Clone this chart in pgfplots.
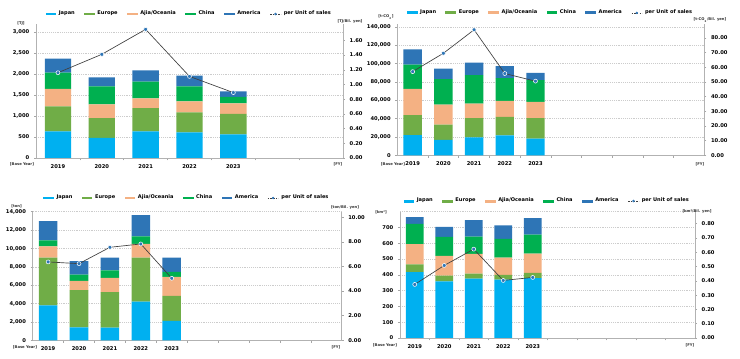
\documentclass[border=0pt]{standalone}
\usepackage{fontspec}
\setmainfont{DejaVu Sans}
\usepackage{pgfplots}
\pgfplotsset{compat=1.18}
\definecolor{cJ}{HTML}{00B0F0}
\definecolor{cE}{HTML}{70AD47}
\definecolor{cA}{HTML}{F4B183}
\definecolor{cC}{HTML}{00B050}
\definecolor{cU}{HTML}{2E75B6}
\definecolor{cM}{HTML}{2E75B6}
\definecolor{cL}{HTML}{404040}
\newcommand{\tickfont}{\fontsize{3.9}{4.2}\selectfont\bfseries}
\newcommand{\legfont}{\fontsize{3.8}{4.2}\selectfont\bfseries}
\newcommand{\unitfont}{\fontsize{2.8}{3}\selectfont\bfseries}
\pgfplotsset{
  common/.style={scale only axis, anchor=south west, xmin=-0.5, ymin=0,
    axis line style={draw=black!30, line width=0.5pt},
    tick label style={font=\tickfont, /pgf/number format/assume math mode=true},
    tick align=outside, major tick length=1.5pt, minor tick length=1.8pt,
    tick style={draw=black!35, line width=0.4pt}, clip=false},
  barax/.style={common, ybar stacked, bar width=0.6,
    axis x line*=bottom, axis y line*=left,
    xtick={0,...,4}, xticklabels={2019,2020,2021,2022,2023},
    every major x tick/.append style={draw=none},
    ymajorgrids, grid style={densely dotted, black!20, line width=0.4pt},
    scaled y ticks=false,
    yticklabel style={/pgf/number format/fixed, /pgf/number format/1000 sep={,}},
    legend columns=6,
    legend style={draw=none, fill=none, font=\legfont, at={(0.5,1)}, anchor=center,
      inner sep=0pt, /tikz/every even column/.append style={column sep=5pt}},
  },
  lineax/.style={common, axis x line=none, axis y line*=right,
    yticklabel style={/pgf/number format/fixed, /pgf/number format/fixed zerofill,
      /pgf/number format/precision=2}},
  bl/.style={fill=#1, draw=none, legend image code/.code={\fill[#1] (0pt,-1.1pt) rectangle (8pt,1.1pt);}},
  ln/.style={draw=cL, line width=0.5pt, mark=*, mark size=1.5pt,
    mark options={fill=cM, draw=white, line width=0.4pt, solid}},
}
\newcommand{\lineleg}{\addlegendimage{legend image code/.code={\draw[cL, line width=0.4pt, dash pattern=on 1.2pt off 0.8pt] (0pt,0pt) -- (8pt,0pt); \fill[cM] (4pt,0pt) circle (0.7pt);}}}
\begin{document}
\begin{tikzpicture}
\useasboundingbox (0,0) rectangle (555pt,269.25pt);
% ---------- Top-left: energy [TJ]
\begin{axis}[barax, at={(27pt,150.75pt)}, width=230.25pt, height=100.5pt,
  xmax=6.5, minor xtick={0.5,1.5,...,5.5}, ymax=3190, ytick={0,500,...,3000},
  legend style={yshift=7.5pt}]
\addplot[bl=cJ] coordinates {(0,635) (1,476) (2,635) (3,611) (4,563)};
\addlegendentry{Japan}
\addplot[bl=cE] coordinates {(0,595) (1,476) (2,555) (3,476) (4,485)};
\addlegendentry{Europe}
\addplot[bl=cA] coordinates {(0,413) (1,326) (2,231) (3,262) (4,254)};
\addlegendentry{Ajia/Oceania}
\addplot[bl=cC] coordinates {(0,389) (1,428) (2,396) (3,357) (4,150)};
\addlegendentry{China}
\addplot[bl=cU] coordinates {(0,333) (1,215) (2,270) (3,254) (4,135)};
\addlegendentry{America}
\lineleg
\addlegendentry{per Unit of sales}
\end{axis}
\begin{axis}[lineax, at={(27pt,150.75pt)}, width=230.25pt, height=100.5pt,
  xmax=6.5, ymax=1.823, ytick={0,0.2,...,1.61}]
\addplot[ln] coordinates {(0,1.16) (1,1.41) (2,1.75) (3,1.11) (4,0.89)};
\end{axis}
% ---------- Top-right: CO2 [t-CO2]
\begin{axis}[barax, at={(298pt,152.8pt)}, width=230.25pt, height=98.5pt,
  xmax=9.5, minor xtick={0.5,1.5,...,8.5}, ymax=143270, ytick={0,20000,...,140000},
  legend style={yshift=8.25pt}]
\addplot[bl=cJ] coordinates {(0,22100) (1,16700) (2,19600) (3,21700) (4,18100)};
\addlegendentry{Japan}
\addplot[bl=cE] coordinates {(0,21700) (1,16600) (2,21000) (3,20300) (4,22500)};
\addlegendentry{Europe}
\addplot[bl=cA] coordinates {(0,28700) (1,21800) (2,15600) (3,17400) (4,17700)};
\addlegendentry{Ajia/Oceania}
\addplot[bl=cC] coordinates {(0,26400) (1,27900) (2,31100) (3,24700) (4,23600)};
\addlegendentry{China}
\addplot[bl=cU] coordinates {(0,16700) (1,11600) (2,13800) (3,13000) (4,8000)};
\addlegendentry{America}
\lineleg
\addlegendentry{per Unit of sales}
\end{axis}
\begin{axis}[lineax, at={(298pt,152.8pt)}, width=230.25pt, height=98.5pt,
  xmax=9.5, ymax=89.5, ytick={0,10,...,80}]
\addplot[ln] coordinates {(0,57.0) (1,69.5) (2,85.5) (3,55.7) (4,50.5)};
\end{axis}
% ---------- Bottom-left: [ton]
\begin{axis}[barax, at={(24.5pt,14pt)}, width=231.75pt, height=96.45pt,
  xmax=9.5, minor xtick={0.5,1.5,...,8.5}, ymax=14000, ytick={0,2000,...,14000},
  legend style={yshift=10.3pt}]
\addplot[bl=cJ] coordinates {(0,3800) (1,1410) (2,1370) (3,4200) (4,2130)};
\addlegendentry{Japan}
\addplot[bl=cE] coordinates {(0,5200) (1,4050) (2,3870) (3,4810) (4,2720)};
\addlegendentry{Europe}
\addplot[bl=cA] coordinates {(0,1230) (1,1015) (2,1555) (3,1485) (4,2060)};
\addlegendentry{Ajia/Oceania}
\addplot[bl=cC] coordinates {(0,650) (1,685) (2,830) (3,830) (4,540)};
\addlegendentry{China}
\addplot[bl=cU] coordinates {(0,2100) (1,1450) (2,1375) (3,2315) (4,1555)};
\addlegendentry{America}
\lineleg
\addlegendentry{per Unit of sales}
\end{axis}
\begin{axis}[lineax, at={(24.5pt,14pt)}, width=231.75pt, height=96.45pt,
  xmax=9.5, ymax=10.45, ytick={0,2,...,10}]
\addplot[ln] coordinates {(0,6.37) (1,6.23) (2,7.56) (3,7.83) (4,5.04)};
\end{axis}
% ---------- Bottom-right: [km2]
\begin{axis}[barax, at={(300pt,15.75pt)}, width=221.25pt, height=94.7pt,
  xmax=9.5, minor xtick={0.5,1.5,...,8.5}, ymax=800, ytick={0,100,...,700},
  extra y ticks={800}, extra y tick labels={}, extra y tick style={grid=major, tick style={draw=none}},
  legend style={yshift=8pt}]
\addplot[bl=cJ] coordinates {(0,418) (1,359) (2,376) (3,370) (4,380)};
\addlegendentry{Japan}
\addplot[bl=cE] coordinates {(0,49) (1,36) (2,32) (3,30) (4,32)};
\addlegendentry{Europe}
\addplot[bl=cA] coordinates {(0,127) (1,125) (2,125) (3,109) (4,123)};
\addlegendentry{Ajia/Oceania}
\addplot[bl=cC] coordinates {(0,129) (1,120) (2,110) (3,119) (4,120)};
\addlegendentry{China}
\addplot[bl=cU] coordinates {(0,42) (1,64) (2,103) (3,86) (4,104)};
\addlegendentry{America}
\lineleg
\addlegendentry{per Unit of sales}
\end{axis}
\begin{axis}[lineax, at={(300pt,15.75pt)}, width=221.25pt, height=94.7pt,
  xmax=9.5, ymax=0.884, ytick={0,0.1,...,0.81}]
\addplot[ln] coordinates {(0,0.375) (1,0.508) (2,0.622) (3,0.403) (4,0.424)};
\end{axis}
% ---------- unit labels
\begin{scope}[every node/.style={font=\unitfont, inner sep=0pt, text=black!80}]
\node at (15.75pt,252pt) {[TJ]};
\node at (262.5pt,253.5pt) {[TJ/Bil. yen]};
\node at (16.5pt,146.25pt) {[Base Year]};
\node at (253.5pt,146.25pt) {[FY]};
\node at (289.5pt,256.5pt) {[t-CO\textsubscript{2}]};
\node at (532.5pt,254.25pt) {[t-CO\textsubscript{2}/Bil. yen]};
\node at (294.75pt,146.25pt) {[Base Year]};
\node at (525pt,146.25pt) {[FY]};
\node at (12.4pt,114.75pt) {[ton]};
\node at (258.75pt,114pt) {[ton/Bil. yen]};
\node at (18.75pt,9pt) {[Base Year]};
\node at (252pt,9pt) {[FY]};
\node at (285.75pt,110.25pt) {[km²]};
\node at (522.75pt,111pt) {[km²/Bil. yen]};
\node at (288.75pt,10.5pt) {[Base Year]};
\node at (517.5pt,10.5pt) {[FY]};
\end{scope}
\end{tikzpicture}
\end{document}
